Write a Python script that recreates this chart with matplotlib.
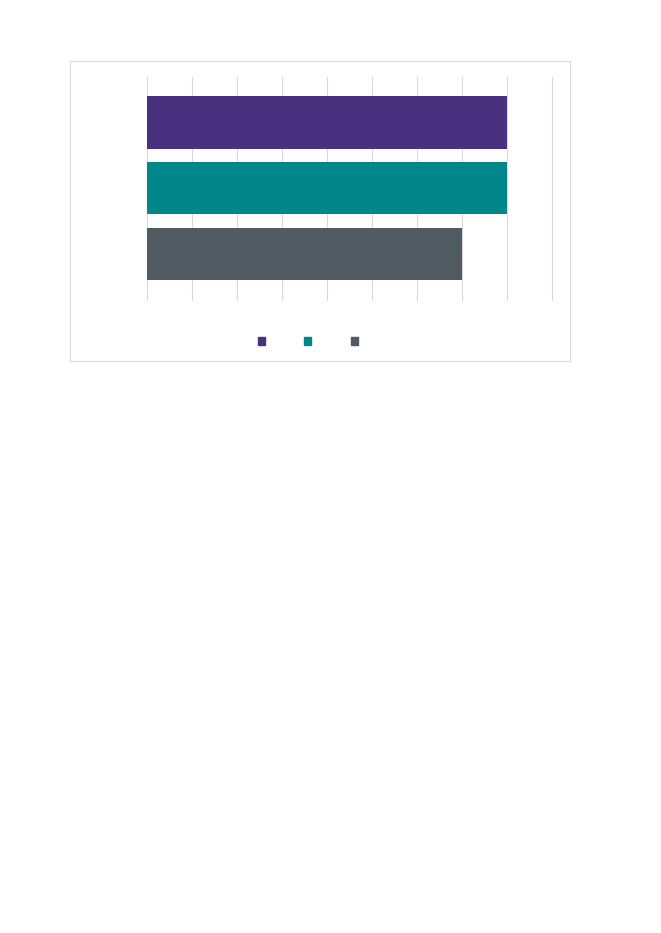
import matplotlib.pyplot as plt
from matplotlib.patches import Patch, Rectangle

series = ['Series 1', 'Series 2', 'Series 3']
values = [8, 8, 7]
colors = ['#4a3180', '#00868b', '#4f5b60']

fig = plt.figure(figsize=(6.61, 9.33), dpi=100)

# outer chart frame
fig.patches.append(Rectangle((70.3 / 661, 1 - 361.3 / 933), 500 / 661, 300 / 933,
                             transform=fig.transFigure, fill=False,
                             edgecolor='#d9d9d9', linewidth=0.8))

ax = fig.add_axes([147.3 / 661, 1 - 300 / 933, 405 / 661, 223.3 / 933])
for i, (name, val, c) in enumerate(zip(series, values, colors)):
	ax.barh(i, val, height=0.795, color=c, label=name, zorder=2)

ax.set_xlim(0, 9)
ax.set_ylim(2.698, -0.698)
ax.set_xticks(range(10))
ax.grid(True, axis='x', color='#d9d9d9', linewidth=0.8, zorder=0)
for gl in ax.get_xgridlines():
	gl.set_clip_on(False)
ax.tick_params(left=False, bottom=False, labelleft=False, labelbottom=False)
for s in ax.spines.values():
	s.set_visible(False)

handles = [Patch(color=c) for c in colors]
fig.legend(handles, ['', '', ''], loc='center', ncol=3, frameon=False,
           bbox_to_anchor=(307.7 / 661, 1 - 342 / 933), fontsize=9,
           handlelength=0.55, handleheight=0.55, handletextpad=0,
           columnspacing=3.17)

plt.savefig('out.png', dpi=100)
